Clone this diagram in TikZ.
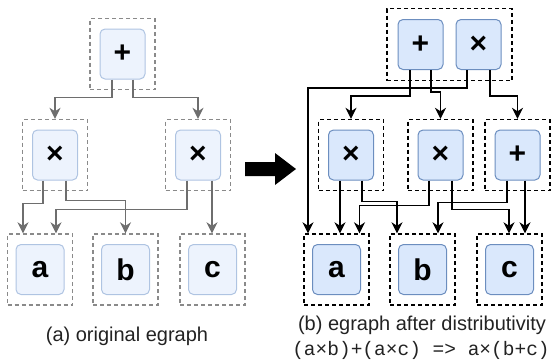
\documentclass[tikz,border=0pt]{standalone}
\usepackage{fontspec}
\setmainfont{Liberation Sans}
\setmonofont{Liberation Mono}
\usetikzlibrary{arrows.meta,calc,fit}

\definecolor{oldfill}{HTML}{EDF3FD}
\definecolor{olddraw}{HTML}{AFC4E2}
\definecolor{newfill}{HTML}{DAE8FC}
\definecolor{newdraw}{HTML}{6C8EBF}
\definecolor{oldedge}{HTML}{6E6E6E}
\definecolor{oldbox}{HTML}{8A8A8A}
\definecolor{captext}{HTML}{222222}

\tikzset{
  enode/.style={draw, rounded corners=5pt, line width=1pt, minimum height=50pt,
    inner sep=0pt, font=\bfseries\fontsize{30}{30}\selectfont},
  opnode/.style={enode, minimum width=45pt},
  leafnode/.style={enode, minimum width=48pt},
  oldnode/.style={fill=oldfill, draw=olddraw},
  newnode/.style={fill=newfill, draw=newdraw},
  eclass/.style={dash pattern=on 4pt off 3pt, line width=1.4pt, minimum width=65pt,
    minimum height=71pt, inner sep=0pt},
  oldclass/.style={eclass, draw=oldbox},
  newclass/.style={eclass, draw=black},
  oldedge/.style={draw=oldedge, line width=1.4pt,
    -{Stealth[length=11pt,width=11pt,inset=3.5pt,fill=oldedge]}},
  newedge/.style={draw=black, line width=1.4pt,
    -{Stealth[length=11pt,width=11pt,inset=3.5pt]}},
  caption/.style={font=\fontsize{20}{24}\selectfont, text=captext, inner sep=0pt},
}

\begin{document}
\begin{tikzpicture}[x=1pt, y=-1pt]
\useasboundingbox (0,0) rectangle (555,362);

% ---------- (a) original egraph ----------
\node[opnode, oldnode] (P) at (122.5,54) {+};
\node[oldclass] (Pb) at (P) {};
\node[opnode, oldnode] (M1) at (55,155) {×};
\node[oldclass] (M1b) at (M1) {};
\node[opnode, oldnode] (M2) at (198,155) {×};
\node[oldclass] (M2b) at (M2) {};
\node[leafnode, oldnode] (A) at (40,269.5) {a};
\node[oldclass] (Ab) at (A) {};
\node[leafnode, oldnode] (B) at (125.5,269.5) {b};
\node[oldclass] (Bb) at (B) {};
\node[leafnode, oldnode] (C) at (212.5,269.5) {c};
\node[oldclass] (Cb) at (C) {};

\draw[oldedge] ($(P.south)+(-10.5,0)$) -- ++(0,18) -| (M1b.north);
\draw[oldedge] ($(P.south)+(10.5,0)$) -- ++(0,18) -| (M2b.north);
\draw[oldedge] ($(M1.south)+(-12,0)$) -- ++(0,23) -| ($(Ab.north)+(-17,0)$);
\draw[oldedge] ($(M1.south)+(11,0)$) -- ++(0,20) -| (Bb.north);
\draw[oldedge] ($(M2.south)+(-11,0)$) -- ++(0,29) -| ($(Ab.north)+(16,0)$);
\coordinate (m2r) at ($(M2.south)+(14,0)$);
\draw[oldedge] (m2r) -- (m2r |- Cb.north);

\node[caption] (capa) at (127,336) {(a) original egraph};

% ---------- rewrite arrow ----------
\fill[black] (245,162) -- (275,162) -- (275,153) -- (296,169) -- (275,185)
  -- (275,176) -- (245,176) -- cycle;

% ---------- (b) egraph after distributivity ----------
\node[opnode, newnode] (P2) at (420.5,44.5) {+};
\node[opnode, newnode] (T2) at (478.5,44.5) {×};
\node[newclass, fit=(P2)(T2), inner sep=10.5pt, minimum width=0pt, minimum height=0pt] (Tb) {};
\node[opnode, newnode] (X1) at (351,155) {×};
\node[newclass] (X1b) at (X1) {};
\node[opnode, newnode] (X2) at (440.5,155) {×};
\node[newclass] (X2b) at (X2) {};
\node[opnode, newnode] (PL) at (517.5,155) {+};
\node[newclass] (PLb) at (PL) {};
\node[leafnode, newnode] (A2) at (336.5,269.5) {a};
\node[newclass] (A2b) at (A2) {};
\node[leafnode, newnode] (B2) at (422.5,269.5) {b};
\node[newclass] (B2b) at (B2) {};
\node[leafnode, newnode] (C2) at (509.5,269.5) {c};
\node[newclass] (C2b) at (C2) {};

\draw[newedge] ($(P2.south)+(-10.5,0)$) -- ++(0,26) -| (X1b.north);
\draw[newedge] ($(P2.south)+(10.5,0)$) -- ++(0,22) -| (X2b.north);
\draw[newedge] ($(T2.south)+(-11.5,0)$) -- ++(0,18) -| ($(A2b.north)+(-28.5,0)$);
\draw[newedge] ($(T2.south)+(11.5,0)$) -- ++(0,26) -| (PLb.north);
\coordinate (x1l) at ($(X1.south)+(-11,0)$);
\draw[newedge] (x1l) -- (x1l |- A2b.north);
\draw[newedge] ($(X1.south)+(11,0)$) -- ++(0,21) -| ($(B2b.north)+(-25.5,0)$);
\draw[newedge] ($(X2.south)+(-11.5,0)$) -- ++(0,25) -| ($(A2b.north)+(23,0)$);
\draw[newedge] ($(X2.south)+(11.5,0)$) -- ++(0,29) -| ($(C2b.north)+(-0.5,0)$);
\draw[newedge] ($(PL.south)+(-10.5,0)$) -- ++(0,22) -| ($(B2b.north)+(15.5,0)$);
\coordinate (plr) at ($(PL.south)+(7.5,0)$);
\draw[newedge] (plr) -- (plr |- C2b.north);

\node[caption] (capb) at (422,325) {(b) egraph after distributivity};
\node[caption, font=\ttfamily\fontsize{19.5}{22}\selectfont] (rule) at (421,350)
  {(a×b)+(a×c) => a×(b+c)};
\end{tikzpicture}
\end{document}
